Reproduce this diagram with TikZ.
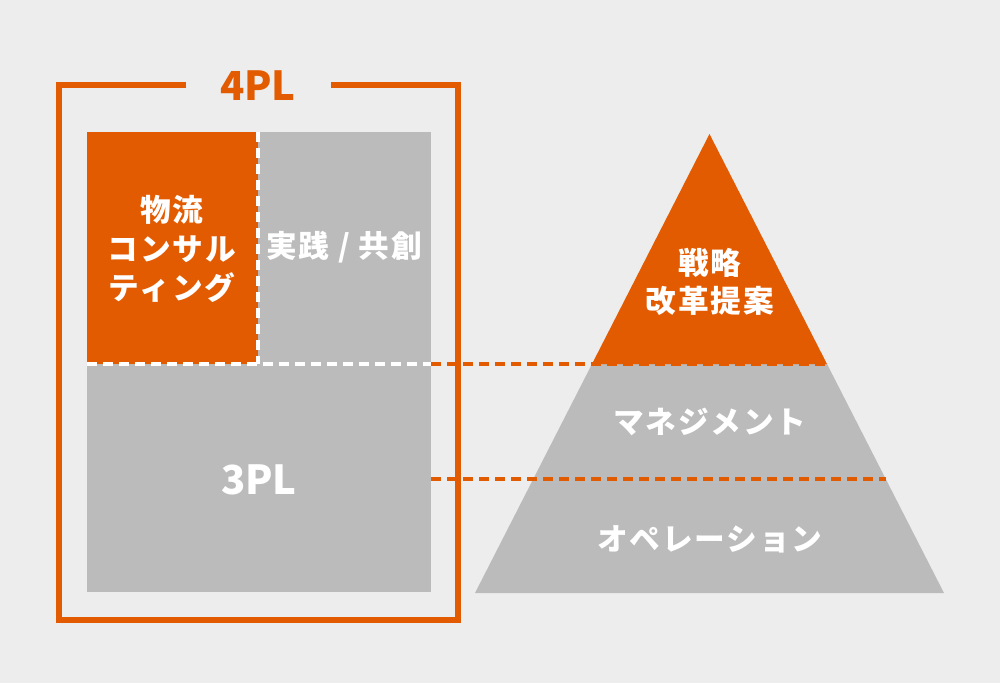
\documentclass[tikz,border=0pt]{standalone}
\usepackage{fontspec}
\setmainfont{Noto Sans CJK JP}[LetterSpace=6]
\newfontfamily\latinbold{Noto Sans CJK JP}
\definecolor{bg}{HTML}{EDEDED}
\definecolor{org}{HTML}{E35B00}
\definecolor{gry}{HTML}{BBBBBB}
\tikzset{
  jptext/.style={text=white, font=\fontsize{23}{29}\selectfont\bfseries, align=center, inner sep=0pt},
  bigtext/.style={font=\latinbold\fontsize{30}{34}\selectfont\bfseries, inner sep=0pt},
  framepath/.style={draw=org, line width=4.5pt, line join=miter},
  odash/.style={draw=org, line width=2.4pt, dash pattern=on 7.5pt off 4.5pt},
  wdash/.style={draw=white, line width=2.4pt, dash pattern=on 7.5pt off 4.5pt},
}
\begin{document}
\begin{tikzpicture}[x=0.75pt, y=-0.75pt]
\useasboundingbox[fill=bg] (0,0) rectangle (1000,683);
% 4PL frame
\coordinate (fl) at (186,85);
\coordinate (fr) at (331,85);
\draw[framepath] (fl) -- (59,85) -- (59,620) -- (458,620) -- (458,85) -- (fr);
\node[bigtext, text=org] (t4pl) at (258,86) {4PL};
% boxes
\fill[gry] (87,132) rectangle (431,592);
\fill[org] (87,132) rectangle (258,364);
\coordinate (vtop) at (258,132);
\coordinate (vbot) at (258,364);
\coordinate (hl) at (87,364);
\coordinate (hm) at (431,364);
\draw[wdash] (vtop) -- (vbot);
\node[jptext] (consult) at (172,249) {物流\\コンサル\\ティング};
\node[jptext] (jissen) at (344,247) {実践 / 共創};
\node[bigtext, text=white] (t3pl) at (259,480) {3PL};
% pyramid
\coordinate (apex) at (709.5,134);
\coordinate (bl) at (475,593);
\coordinate (br) at (944,593);
\coordinate (l1) at (592,364);
\coordinate (r1) at (827,364);
\coordinate (l2) at (533,479);
\coordinate (r2) at (886,479);
\fill[gry] (l1) -- (r1) -- (br) -- (bl) -- cycle;
\fill[org] (apex) -- (r1) -- (l1) -- cycle;
\node[jptext] (senryaku) at (710,282) {戦略\\改革提案};
\node[jptext] (mgmt) at (710,422) {マネジメント};
\node[jptext] (ops) at (710,539) {オペレーション};
% dashed connectors
\draw[wdash] (hl) -- (hm);
\draw[odash] (hm) -- (r1);
\coordinate (h2) at (431,479);
\draw[odash] (h2) -- (r2);
\end{tikzpicture}
\end{document}
